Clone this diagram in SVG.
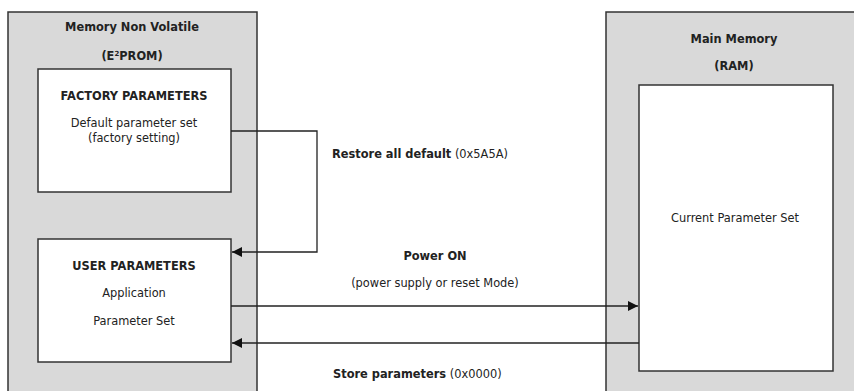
<svg xmlns="http://www.w3.org/2000/svg" width="854" height="391" viewBox="0 0 854 391">
<defs>
<style>
.outer{fill:#d9d9d9;stroke:#333;stroke-width:1.5}
.inner{fill:#fff;stroke:#333;stroke-width:1.5}
text{font-family:"DejaVu Sans",Verdana,sans-serif;font-size:11.4px;fill:#222}
.b{font-weight:bold}
.c{text-anchor:middle}
.ln{fill:none;stroke:#222;stroke-width:1.3}
</style>
<marker id="ah" viewBox="0 0 10 10" refX="10" refY="5" markerWidth="10" markerHeight="10" markerUnits="userSpaceOnUse" orient="auto">
<path d="M0,0 L10,5 L0,10 z" fill="#111"/>
</marker>
</defs>
<rect x="0" y="0" width="854" height="391" fill="#fff"/>
<g id="nvm">
<rect class="outer" x="8" y="12" width="249" height="390"/>
<text class="b c" x="132" y="31">Memory Non Volatile</text>
<text class="b c" x="132" y="60">(E<tspan font-size="7" dy="-4">2</tspan><tspan dy="4">PROM)</tspan></text>
</g>
<g id="factory">
<rect class="inner" x="38" y="69" width="193" height="123"/>
<text class="b c" x="134" y="100">FACTORY PARAMETERS</text>
<text class="c" x="134" y="127">Default parameter set</text>
<text class="c" x="134" y="142">(factory setting)</text>
</g>
<g id="user">
<rect class="inner" x="38" y="239" width="193" height="123"/>
<text class="b c" x="134" y="270">USER PARAMETERS</text>
<text class="c" x="134" y="297">Application</text>
<text class="c" x="134" y="325">Parameter Set</text>
</g>
<g id="ram">
<rect class="outer" x="606" y="12" width="260" height="390"/>
<text class="b c" x="734" y="43">Main Memory</text>
<text class="b c" x="734" y="70">(RAM)</text>
</g>
<g id="current">
<rect class="inner" x="639" y="85" width="194" height="286"/>
<text class="c" x="735" y="222">Current Parameter Set</text>
</g>
<g id="connectors">
<path class="ln" d="M231,131 H317 V252 H232" marker-end="url(#ah)"/>
<path class="ln" d="M231,306 H638" marker-end="url(#ah)"/>
<path class="ln" d="M639,343 H232" marker-end="url(#ah)"/>
<text x="332" y="158"><tspan class="b">Restore all default</tspan> (0x5A5A)</text>
<text class="b c" x="435" y="260">Power ON</text>
<text class="c" x="435" y="287">(power supply or reset Mode)</text>
<text x="333" y="378"><tspan class="b">Store parameters</tspan> (0x0000)</text>
</g>
</svg>
